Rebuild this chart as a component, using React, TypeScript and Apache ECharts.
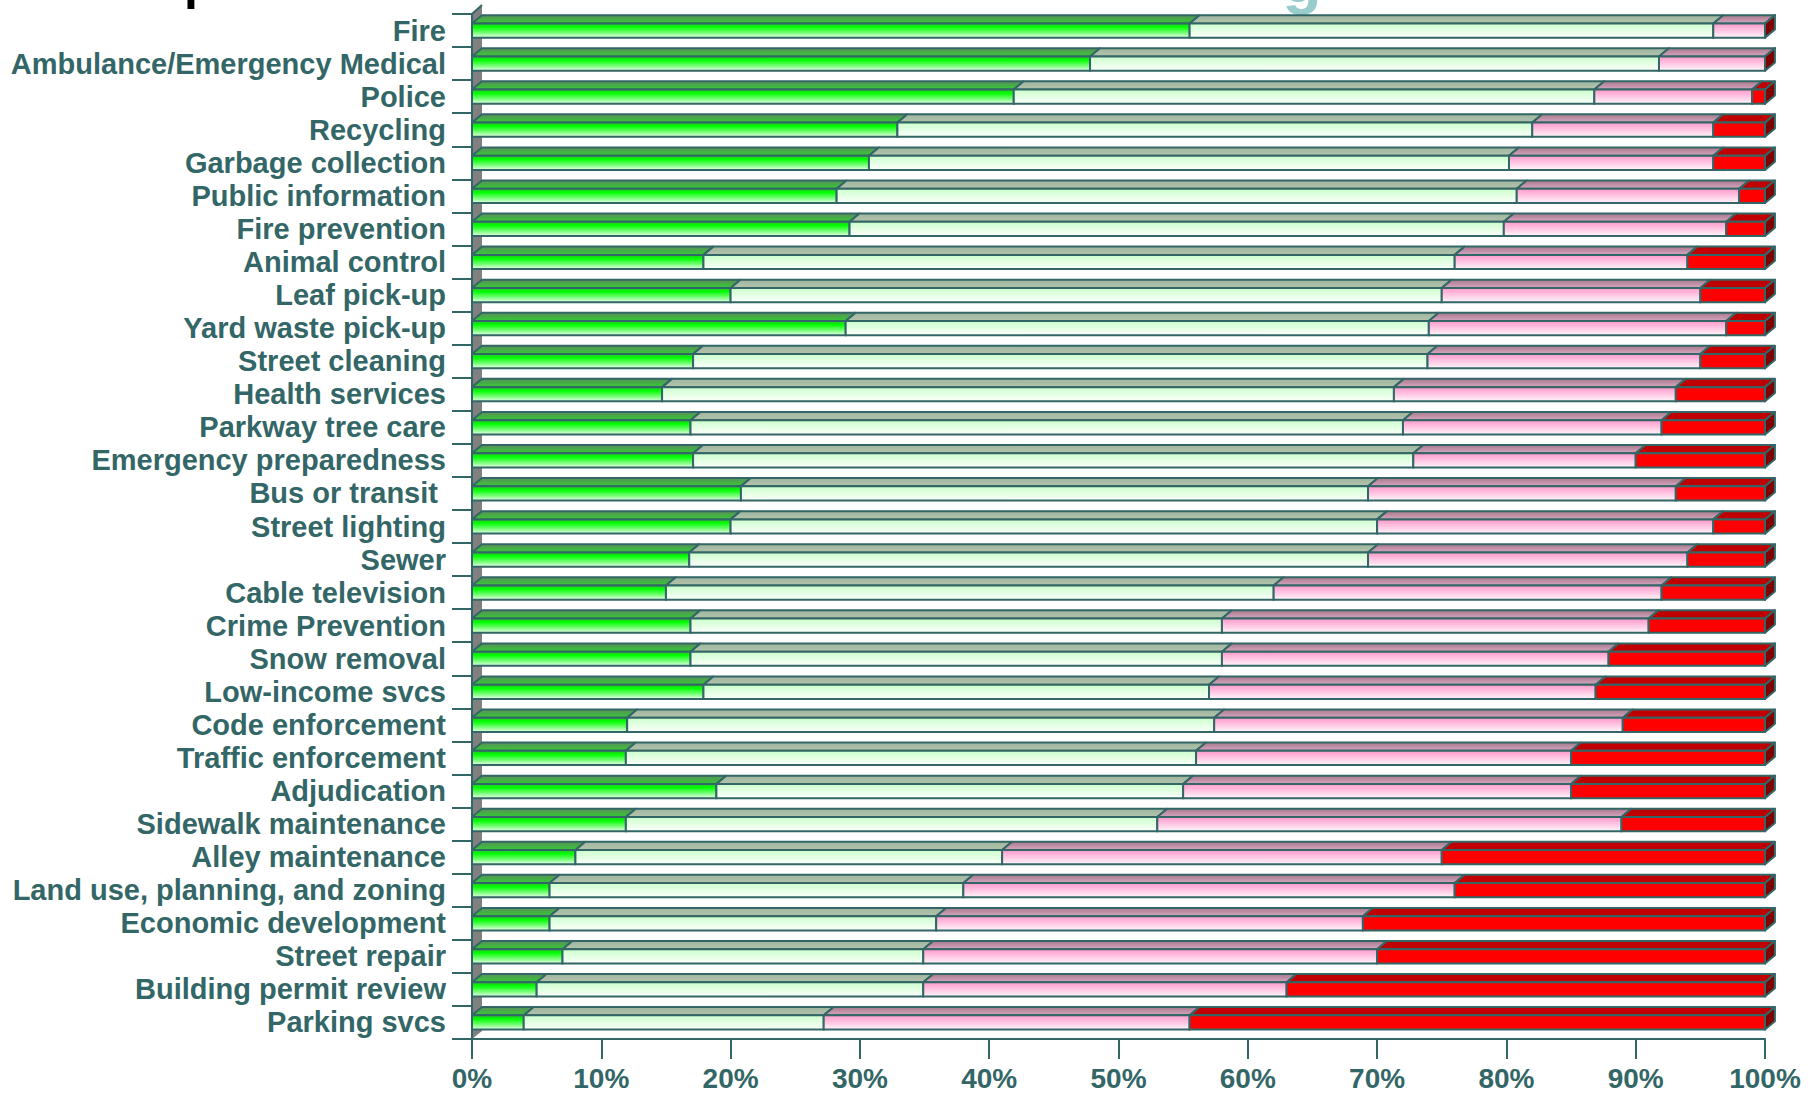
import React, { useEffect, useRef } from "react";
import * as echarts from "echarts";

const categories = [
  "Fire",
  "Ambulance/Emergency Medical",
  "Police",
  "Recycling",
  "Garbage collection",
  "Public information",
  "Fire prevention",
  "Animal control",
  "Leaf pick-up",
  "Yard waste pick-up",
  "Street cleaning",
  "Health services",
  "Parkway tree care",
  "Emergency preparedness",
  "Bus or transit ",
  "Street lighting",
  "Sewer",
  "Cable television",
  "Crime Prevention",
  "Snow removal",
  "Low-income svcs",
  "Code enforcement",
  "Traffic enforcement",
  "Adjudication",
  "Sidewalk maintenance",
  "Alley maintenance",
  "Land use, planning, and zoning",
  "Economic development",
  "Street repair",
  "Building permit review",
  "Parking svcs",
];

// share of respondents per rating band (percent)
const greenValues = [55.5, 47.8, 41.9, 32.9, 30.7, 28.2, 29.2, 17.9, 20.0, 28.9, 17.1, 14.7, 16.9, 17.1, 20.8, 20.0, 16.8, 15.0, 16.9, 16.9, 17.9, 12.0, 11.9, 18.9, 11.9, 8.0, 6.0, 6.0, 7.0, 5.0, 4.0];
const lightValues = [40.5, 44.0, 44.9, 49.1, 49.5, 52.6, 50.6, 58.1, 55.0, 45.1, 56.8, 56.6, 55.1, 55.7, 48.5, 50.0, 52.5, 47.0, 41.1, 41.1, 39.1, 45.4, 44.1, 36.1, 41.1, 33.0, 32.0, 29.9, 27.9, 29.9, 23.2];
const pinkValues = [4.0, 8.2, 12.2, 14.0, 15.8, 17.2, 17.2, 18.0, 20.0, 23.0, 21.1, 21.8, 20.0, 17.2, 23.8, 26.0, 24.7, 30.0, 33.0, 29.9, 29.9, 31.6, 29.0, 30.0, 35.9, 34.0, 38.0, 33.0, 35.1, 28.1, 28.3];
const redValues = [0, 0, 1.0, 4.0, 4.0, 2.0, 3.0, 6.0, 5.0, 3.0, 5.0, 6.9, 8.0, 10.0, 6.9, 4.0, 6.0, 8.0, 9.0, 12.1, 13.1, 11.0, 15.0, 15.0, 11.1, 25.0, 24.0, 31.1, 30.0, 37.0, 44.5];

const xTicks = { min: 0, max: 100, interval: 10 };

const TEAL = "#336666";
const FONT = '"Liberation Sans", Arial, Helvetica, sans-serif';

const lg = (stops: [number, string][]) =>
  new echarts.graphic.LinearGradient(
    0,
    0,
    0,
    1,
    stops.map(([offset, color]) => ({ offset, color }))
  );

const segStyles = [
  {
    front: () => lg([[0, "#2fbf2f"], [0.25, "#00ff00"], [0.6, "#66ff66"], [1, "#e8ffe8"]]),
    top: () => lg([[0, "#5a8f5a"], [1, "#33cc33"]]),
  },
  {
    front: () => lg([[0, "#ccffcc"], [1, "#fbfffb"]]),
    top: () => lg([[0, "#9fb59f"], [1, "#b4c4ac"]]),
  },
  {
    front: () => lg([[0, "#ff99cc"], [0.5, "#ffc6e2"], [1, "#fff6fb"]]),
    top: () => lg([[0, "#a87a8c"], [1, "#d6a6bf"]]),
  },
  {
    front: () => "#ff0000",
    top: () => "#c00000",
  },
];

export default function App() {
  const ref = useRef<HTMLDivElement>(null);

  useEffect(() => {
    if (!ref.current) return;
    const chart = echarts.init(ref.current, null, { renderer: "svg" });

    const segs = [greenValues, lightValues, pinkValues, redValues];
    const starts = categories.map(() => 0);
    const seriesData = segs.map((vals) =>
      vals.map((v, i) => {
        const s = starts[i];
        starts[i] = s + v;
        return [s, s + v, i];
      })
    );

    const makeRender = (si: number) => (params: any, api: any) => {
      const s = api.value(0);
      const e = api.value(1);
      const ci = api.value(2);
      const p0 = api.coord([s, ci]);
      const p1 = api.coord([e, ci]);
      const band = api.size([0, 1])[1];
      const h = band * 0.43;
      const dx = band * 0.3;
      const dy = band * 0.25;
      const x0 = p0[0];
      const x1 = p1[0];
      const yT = p0[1] - h / 2;
      const yB = p0[1] + h / 2;
      const st = segStyles[si];
      const children: any[] = [
        {
          type: "polygon",
          shape: {
            points: [
              [x0, yT],
              [x1, yT],
              [x1 + dx, yT - dy],
              [x0 + dx, yT - dy],
            ],
          },
          style: { fill: st.top(), stroke: TEAL, lineWidth: 2, lineJoin: "round" },
        },
        {
          type: "rect",
          shape: { x: x0, y: yT, width: Math.max(0, x1 - x0), height: h },
          style: { fill: st.front(), stroke: TEAL, lineWidth: 2 },
        },
      ];
      if (si === 3) {
        children.push({
          type: "polygon",
          shape: {
            points: [
              [x1, yT],
              [x1 + dx, yT - dy],
              [x1 + dx, yB - dy],
              [x1, yB],
            ],
          },
          style: { fill: "#800000", stroke: TEAL, lineWidth: 2, lineJoin: "round" },
        });
      }
      return { type: "group", children };
    };

    const gridLeft = 472;
    const gridTop = 14;
    const gridBottomY = 1039;

    chart.setOption({
      animation: false,
      backgroundColor: "#ffffff",
      grid: { left: gridLeft, right: 51, top: gridTop, bottom: 1095 - gridBottomY, containLabel: false },
      xAxis: {
        type: "value",
        min: xTicks.min,
        max: xTicks.max,
        interval: xTicks.interval,
        splitLine: { show: false },
        axisLine: { show: true, lineStyle: { color: TEAL, width: 2 } },
        axisTick: { show: true, length: 20, lineStyle: { color: TEAL, width: 2 } },
        axisLabel: {
          formatter: "{value}%",
          color: TEAL,
          fontSize: 28,
          fontWeight: "bold",
          fontFamily: FONT,
          margin: 25,
        },
      },
      yAxis: {
        type: "category",
        data: categories,
        inverse: true,
        axisLine: { show: true, lineStyle: { color: TEAL, width: 2 } },
        axisTick: { show: true, length: 20, alignWithLabel: false, lineStyle: { color: TEAL, width: 2 } },
        axisLabel: {
          color: TEAL,
          fontSize: 29,
          fontWeight: "bold",
          fontFamily: FONT,
          margin: 26,
          interval: 0,
        },
        splitLine: { show: false },
      },
      graphic: [
        {
          type: "polygon",
          z: -1,
          silent: true,
          shape: {
            points: [
              [gridLeft, gridBottomY],
              [gridLeft + 10, gridBottomY - 8],
              [gridLeft + 10, gridTop - 8],
              [gridLeft, gridTop],
            ],
          },
          style: { fill: "#808080" },
        },
        {
          type: "polyline",
          silent: true,
          shape: { points: [[gridLeft, gridTop], [gridLeft + 10, gridTop - 9]] },
          style: { stroke: TEAL, lineWidth: 2, fill: null },
        },
        {
          type: "text",
          silent: true,
          x: 184,
          y: 7,
          style: {
            text: "p",
            fontSize: 50,
            fontWeight: "bold",
            fontFamily: FONT,
            fill: "#000000",
            verticalAlign: "bottom",
            align: "left",
          },
        },
        {
          type: "text",
          silent: true,
          x: 1302,
          y: 12,
          style: {
            text: "g",
            fontSize: 64,
            fontWeight: "bold",
            fontFamily: FONT,
            fill: "#99cccc",
            verticalAlign: "bottom",
            align: "center",
          },
        },
      ],
      series: seriesData.map((data, si) => ({
        type: "custom",
        name: ["Green", "Light", "Pink", "Red"][si],
        coordinateSystem: "cartesian2d",
        encode: { x: [0, 1], y: 2 },
        data,
        renderItem: makeRender(si),
        clip: false,
        z: 2,
      })),
    });

    return () => chart.dispose();
  }, []);

  return (
    <div
      ref={ref}
      style={{ position: "fixed", left: 0, top: 0, width: 1816, height: 1095, background: "#fff" }}
    />
  );
}
